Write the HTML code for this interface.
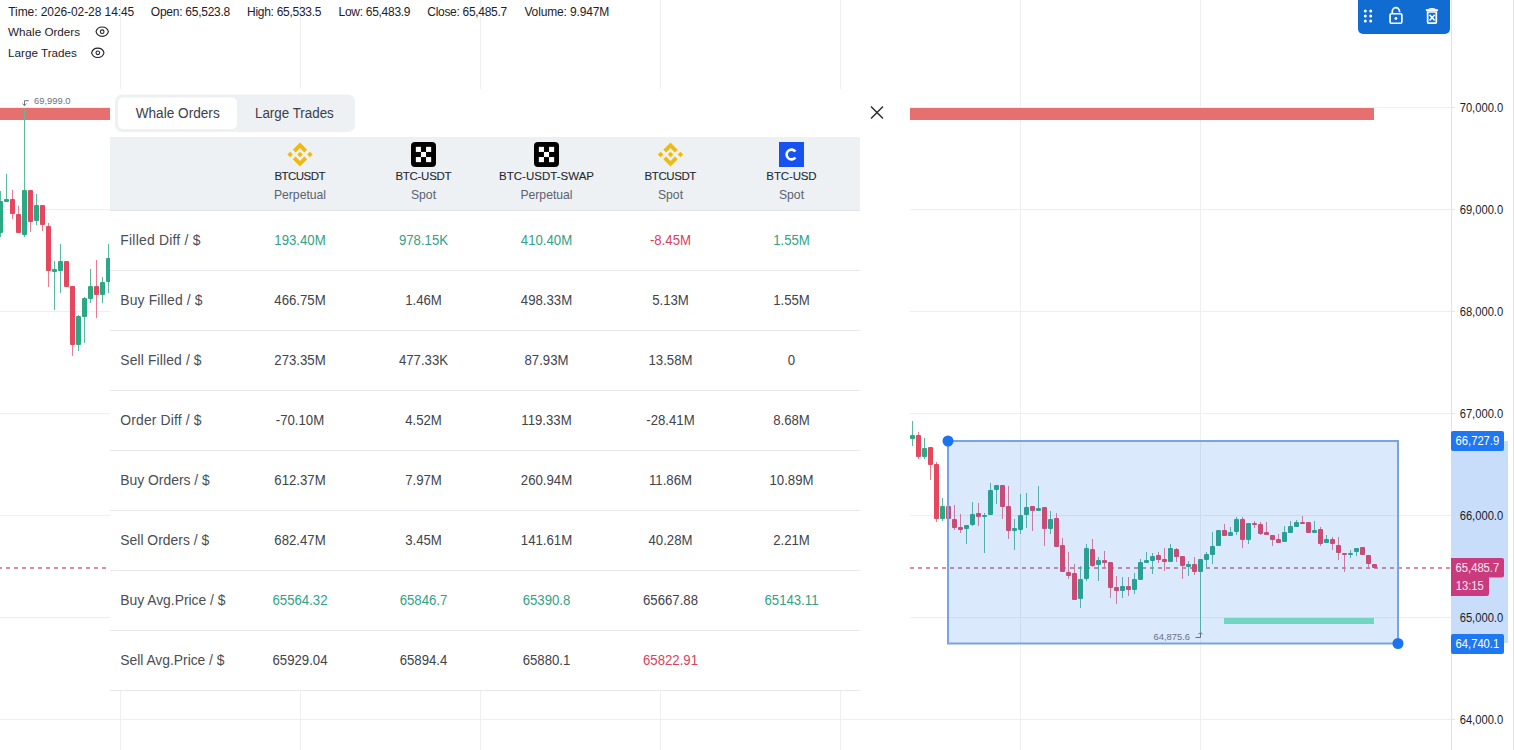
<!DOCTYPE html>
<html><head><meta charset="utf-8">
<style>
html,body{margin:0;padding:0;background:#fff;}
body{width:1514px;height:750px;overflow:hidden;position:relative;}
svg{position:absolute;left:0;top:0;display:block;font-family:"Liberation Sans", sans-serif;}
</style></head>
<body>
<svg width="1514" height="750" viewBox="0 0 1514 750">
<rect x="120" y="0" width="1" height="750" fill="#efefef"/>
<rect x="300" y="0" width="1" height="750" fill="#efefef"/>
<rect x="480" y="0" width="1" height="750" fill="#efefef"/>
<rect x="660" y="0" width="1" height="750" fill="#efefef"/>
<rect x="840" y="0" width="1" height="750" fill="#efefef"/>
<rect x="1020" y="0" width="1" height="750" fill="#efefef"/>
<rect x="1200" y="0" width="1" height="750" fill="#efefef"/>
<rect x="0" y="107" width="1451" height="1" fill="#efefef"/>
<rect x="1451" y="107" width="4" height="1" fill="#e6e6e6"/>
<rect x="0" y="209" width="1451" height="1" fill="#efefef"/>
<rect x="1451" y="209" width="4" height="1" fill="#e6e6e6"/>
<rect x="0" y="311" width="1451" height="1" fill="#efefef"/>
<rect x="1451" y="311" width="4" height="1" fill="#e6e6e6"/>
<rect x="0" y="413" width="1451" height="1" fill="#efefef"/>
<rect x="1451" y="413" width="4" height="1" fill="#e6e6e6"/>
<rect x="0" y="515" width="1451" height="1" fill="#efefef"/>
<rect x="1451" y="515" width="4" height="1" fill="#e6e6e6"/>
<rect x="0" y="617" width="1451" height="1" fill="#efefef"/>
<rect x="1451" y="617" width="4" height="1" fill="#e6e6e6"/>
<rect x="0" y="719" width="1451" height="1" fill="#efefef"/>
<rect x="1451" y="719" width="4" height="1" fill="#e6e6e6"/>
<rect x="0" y="108" width="1374" height="12" fill="#e6706f"/>
<line x1="0" y1="568" x2="1451" y2="568" stroke="#dc8ea2" stroke-width="2" stroke-dasharray="4 4" stroke-dashoffset="2"/>
<rect x="0" y="191" width="1" height="46" fill="#5cba9c"/>
<rect x="-2" y="201" width="5" height="32" rx="1" fill="#2aa985"/>
<rect x="6" y="174" width="1" height="28" fill="#5cba9c"/>
<rect x="4" y="199" width="5" height="3" rx="1" fill="#2aa985"/>
<rect x="12" y="190" width="1" height="29" fill="#e87c91"/>
<rect x="10" y="199" width="5" height="15" rx="1" fill="#e8455f"/>
<rect x="18" y="206" width="1" height="27" fill="#e87c91"/>
<rect x="16" y="214" width="5" height="19" rx="1" fill="#e8455f"/>
<rect x="24" y="109" width="1" height="128" fill="#5cba9c"/>
<rect x="22" y="190" width="5" height="45" rx="1" fill="#2aa985"/>
<rect x="30" y="190" width="1" height="42" fill="#e87c91"/>
<rect x="28" y="190" width="5" height="32" rx="1" fill="#e8455f"/>
<rect x="36" y="194" width="1" height="31" fill="#5cba9c"/>
<rect x="34" y="205" width="5" height="16" rx="1" fill="#2aa985"/>
<rect x="42" y="205" width="1" height="26" fill="#e87c91"/>
<rect x="40" y="205" width="5" height="20" rx="1" fill="#e8455f"/>
<rect x="48" y="223" width="1" height="64" fill="#e87c91"/>
<rect x="46" y="226" width="5" height="45" rx="1" fill="#e8455f"/>
<rect x="54" y="261" width="1" height="49" fill="#5cba9c"/>
<rect x="52" y="269" width="5" height="3" rx="1" fill="#2aa985"/>
<rect x="60" y="244" width="1" height="49" fill="#5cba9c"/>
<rect x="58" y="261" width="5" height="10" rx="1" fill="#2aa985"/>
<rect x="66" y="261" width="1" height="26" fill="#e87c91"/>
<rect x="64" y="261" width="5" height="26" rx="1" fill="#e8455f"/>
<rect x="72" y="286" width="1" height="70" fill="#e87c91"/>
<rect x="70" y="286" width="5" height="59" rx="1" fill="#e8455f"/>
<rect x="78" y="315" width="1" height="36" fill="#5cba9c"/>
<rect x="76" y="316" width="5" height="29" rx="1" fill="#2aa985"/>
<rect x="84" y="297" width="1" height="46" fill="#5cba9c"/>
<rect x="82" y="298" width="5" height="19" rx="1" fill="#2aa985"/>
<rect x="90" y="269" width="1" height="34" fill="#5cba9c"/>
<rect x="88" y="286" width="5" height="13" rx="1" fill="#2aa985"/>
<rect x="96" y="260" width="1" height="58" fill="#e87c91"/>
<rect x="94" y="286" width="5" height="9" rx="1" fill="#e8455f"/>
<rect x="102" y="277" width="1" height="26" fill="#5cba9c"/>
<rect x="100" y="282" width="5" height="13" rx="1" fill="#2aa985"/>
<rect x="108" y="244" width="1" height="49" fill="#5cba9c"/>
<rect x="106" y="258" width="5" height="24" rx="1" fill="#2aa985"/>
<rect x="912" y="421" width="1" height="25" fill="#5cba9c"/>
<rect x="910" y="435" width="5" height="4" rx="1" fill="#2aa985"/>
<rect x="918" y="432" width="1" height="27" fill="#e87c91"/>
<rect x="916" y="435" width="5" height="22" rx="1" fill="#e8455f"/>
<rect x="924" y="438" width="1" height="21" fill="#5cba9c"/>
<rect x="922" y="448" width="5" height="9" rx="1" fill="#2aa985"/>
<rect x="930" y="447" width="1" height="33" fill="#e87c91"/>
<rect x="928" y="447" width="5" height="18" rx="1" fill="#e8455f"/>
<rect x="936" y="462" width="1" height="60" fill="#e87c91"/>
<rect x="934" y="464" width="5" height="55" rx="1" fill="#e8455f"/>
<rect x="942" y="498" width="1" height="23" fill="#5cba9c"/>
<rect x="940" y="506" width="5" height="13" rx="1" fill="#2aa985"/>
<rect x="948" y="495" width="1" height="35" fill="#e87c91"/>
<rect x="946" y="506" width="5" height="13" rx="1" fill="#e8455f"/>
<rect x="954" y="505" width="1" height="25" fill="#e87c91"/>
<rect x="952" y="519" width="5" height="9" rx="1" fill="#e8455f"/>
<rect x="960" y="514" width="1" height="19" fill="#e87c91"/>
<rect x="958" y="527" width="5" height="3" rx="1" fill="#e8455f"/>
<rect x="966" y="525" width="1" height="19" fill="#5cba9c"/>
<rect x="964" y="525" width="5" height="4" rx="1" fill="#2aa985"/>
<rect x="972" y="502" width="1" height="24" fill="#5cba9c"/>
<rect x="970" y="514" width="5" height="11" rx="1" fill="#2aa985"/>
<rect x="978" y="503" width="1" height="23" fill="#e87c91"/>
<rect x="976" y="513" width="5" height="4" rx="1" fill="#e8455f"/>
<rect x="984" y="513" width="1" height="40" fill="#5cba9c"/>
<rect x="982" y="515" width="5" height="2" rx="1" fill="#2aa985"/>
<rect x="990" y="483" width="1" height="32" fill="#5cba9c"/>
<rect x="988" y="490" width="5" height="25" rx="1" fill="#2aa985"/>
<rect x="996" y="485" width="1" height="19" fill="#5cba9c"/>
<rect x="994" y="485" width="5" height="5" rx="1" fill="#2aa985"/>
<rect x="1002" y="485" width="1" height="34" fill="#e87c91"/>
<rect x="1000" y="485" width="5" height="22" rx="1" fill="#e8455f"/>
<rect x="1008" y="486" width="1" height="53" fill="#e87c91"/>
<rect x="1006" y="506" width="5" height="25" rx="1" fill="#e8455f"/>
<rect x="1014" y="519" width="1" height="31" fill="#5cba9c"/>
<rect x="1012" y="528" width="5" height="3" rx="1" fill="#2aa985"/>
<rect x="1020" y="494" width="1" height="40" fill="#5cba9c"/>
<rect x="1018" y="515" width="5" height="15" rx="1" fill="#2aa985"/>
<rect x="1026" y="493" width="1" height="35" fill="#5cba9c"/>
<rect x="1024" y="507" width="5" height="8" rx="1" fill="#2aa985"/>
<rect x="1032" y="506" width="1" height="25" fill="#e87c91"/>
<rect x="1030" y="506" width="5" height="5" rx="1" fill="#e8455f"/>
<rect x="1038" y="486" width="1" height="25" fill="#5cba9c"/>
<rect x="1036" y="508" width="5" height="3" rx="1" fill="#2aa985"/>
<rect x="1044" y="507" width="1" height="39" fill="#e87c91"/>
<rect x="1042" y="507" width="5" height="22" rx="1" fill="#e8455f"/>
<rect x="1050" y="511" width="1" height="23" fill="#5cba9c"/>
<rect x="1048" y="519" width="5" height="10" rx="1" fill="#2aa985"/>
<rect x="1056" y="513" width="1" height="34" fill="#e87c91"/>
<rect x="1054" y="518" width="5" height="29" rx="1" fill="#e8455f"/>
<rect x="1062" y="538" width="1" height="34" fill="#e87c91"/>
<rect x="1060" y="545" width="5" height="27" rx="1" fill="#e8455f"/>
<rect x="1068" y="552" width="1" height="27" fill="#e87c91"/>
<rect x="1066" y="572" width="5" height="4" rx="1" fill="#e8455f"/>
<rect x="1074" y="564" width="1" height="36" fill="#e87c91"/>
<rect x="1072" y="573" width="5" height="27" rx="1" fill="#e8455f"/>
<rect x="1080" y="566" width="1" height="42" fill="#5cba9c"/>
<rect x="1078" y="579" width="5" height="20" rx="1" fill="#2aa985"/>
<rect x="1086" y="544" width="1" height="37" fill="#5cba9c"/>
<rect x="1084" y="548" width="5" height="31" rx="1" fill="#2aa985"/>
<rect x="1092" y="539" width="1" height="28" fill="#e87c91"/>
<rect x="1090" y="549" width="5" height="17" rx="1" fill="#e8455f"/>
<rect x="1098" y="557" width="1" height="24" fill="#5cba9c"/>
<rect x="1096" y="560" width="5" height="5" rx="1" fill="#2aa985"/>
<rect x="1104" y="551" width="1" height="17" fill="#e87c91"/>
<rect x="1102" y="560" width="5" height="3" rx="1" fill="#e8455f"/>
<rect x="1110" y="562" width="1" height="36" fill="#e87c91"/>
<rect x="1108" y="562" width="5" height="26" rx="1" fill="#e8455f"/>
<rect x="1116" y="576" width="1" height="28" fill="#e87c91"/>
<rect x="1114" y="587" width="5" height="4" rx="1" fill="#e8455f"/>
<rect x="1122" y="577" width="1" height="21" fill="#5cba9c"/>
<rect x="1120" y="586" width="5" height="5" rx="1" fill="#2aa985"/>
<rect x="1128" y="577" width="1" height="19" fill="#e87c91"/>
<rect x="1126" y="586" width="5" height="4" rx="1" fill="#e8455f"/>
<rect x="1134" y="573" width="1" height="21" fill="#5cba9c"/>
<rect x="1132" y="579" width="5" height="11" rx="1" fill="#2aa985"/>
<rect x="1140" y="559" width="1" height="21" fill="#5cba9c"/>
<rect x="1138" y="562" width="5" height="18" rx="1" fill="#2aa985"/>
<rect x="1146" y="552" width="1" height="11" fill="#5cba9c"/>
<rect x="1144" y="560" width="5" height="3" rx="1" fill="#2aa985"/>
<rect x="1152" y="553" width="1" height="21" fill="#5cba9c"/>
<rect x="1150" y="556" width="5" height="5" rx="1" fill="#2aa985"/>
<rect x="1158" y="552" width="1" height="11" fill="#e87c91"/>
<rect x="1156" y="555" width="5" height="5" rx="1" fill="#e8455f"/>
<rect x="1164" y="548" width="1" height="23" fill="#e87c91"/>
<rect x="1162" y="559" width="5" height="3" rx="1" fill="#e8455f"/>
<rect x="1170" y="544" width="1" height="18" fill="#5cba9c"/>
<rect x="1168" y="548" width="5" height="14" rx="1" fill="#2aa985"/>
<rect x="1176" y="548" width="1" height="14" fill="#e87c91"/>
<rect x="1174" y="549" width="5" height="8" rx="1" fill="#e8455f"/>
<rect x="1182" y="556" width="1" height="23" fill="#e87c91"/>
<rect x="1180" y="556" width="5" height="10" rx="1" fill="#e8455f"/>
<rect x="1188" y="561" width="1" height="15" fill="#5cba9c"/>
<rect x="1186" y="564" width="5" height="3" rx="1" fill="#2aa985"/>
<rect x="1194" y="557" width="1" height="18" fill="#e87c91"/>
<rect x="1192" y="564" width="5" height="8" rx="1" fill="#e8455f"/>
<rect x="1200" y="559" width="1" height="73" fill="#5cba9c"/>
<rect x="1198" y="559" width="5" height="13" rx="1" fill="#2aa985"/>
<rect x="1206" y="552" width="1" height="16" fill="#5cba9c"/>
<rect x="1204" y="554" width="5" height="6" rx="1" fill="#2aa985"/>
<rect x="1212" y="532" width="1" height="32" fill="#5cba9c"/>
<rect x="1210" y="546" width="5" height="9" rx="1" fill="#2aa985"/>
<rect x="1218" y="530" width="1" height="16" fill="#5cba9c"/>
<rect x="1216" y="530" width="5" height="16" rx="1" fill="#2aa985"/>
<rect x="1224" y="524" width="1" height="12" fill="#e87c91"/>
<rect x="1222" y="530" width="5" height="6" rx="1" fill="#e8455f"/>
<rect x="1230" y="527" width="1" height="9" fill="#5cba9c"/>
<rect x="1228" y="532" width="5" height="4" rx="1" fill="#2aa985"/>
<rect x="1236" y="517" width="1" height="18" fill="#5cba9c"/>
<rect x="1234" y="519" width="5" height="13" rx="1" fill="#2aa985"/>
<rect x="1242" y="517" width="1" height="31" fill="#e87c91"/>
<rect x="1240" y="519" width="5" height="21" rx="1" fill="#e8455f"/>
<rect x="1248" y="523" width="1" height="21" fill="#5cba9c"/>
<rect x="1246" y="523" width="5" height="17" rx="1" fill="#2aa985"/>
<rect x="1254" y="521" width="1" height="7" fill="#e87c91"/>
<rect x="1252" y="523" width="5" height="2" rx="1" fill="#e8455f"/>
<rect x="1260" y="522" width="1" height="13" fill="#e87c91"/>
<rect x="1258" y="524" width="5" height="10" rx="1" fill="#e8455f"/>
<rect x="1266" y="522" width="1" height="13" fill="#e87c91"/>
<rect x="1264" y="532" width="5" height="3" rx="1" fill="#e8455f"/>
<rect x="1272" y="535" width="1" height="11" fill="#e87c91"/>
<rect x="1270" y="535" width="5" height="5" rx="1" fill="#e8455f"/>
<rect x="1278" y="534" width="1" height="9" fill="#e87c91"/>
<rect x="1276" y="539" width="5" height="4" rx="1" fill="#e8455f"/>
<rect x="1284" y="526" width="1" height="16" fill="#5cba9c"/>
<rect x="1282" y="532" width="5" height="10" rx="1" fill="#2aa985"/>
<rect x="1290" y="521" width="1" height="12" fill="#5cba9c"/>
<rect x="1288" y="526" width="5" height="7" rx="1" fill="#2aa985"/>
<rect x="1296" y="520" width="1" height="7" fill="#5cba9c"/>
<rect x="1294" y="522" width="5" height="5" rx="1" fill="#2aa985"/>
<rect x="1302" y="516" width="1" height="8" fill="#e87c91"/>
<rect x="1300" y="522" width="5" height="2" rx="1" fill="#e8455f"/>
<rect x="1308" y="522" width="1" height="11" fill="#e87c91"/>
<rect x="1306" y="522" width="5" height="11" rx="1" fill="#e8455f"/>
<rect x="1314" y="521" width="1" height="12" fill="#5cba9c"/>
<rect x="1312" y="530" width="5" height="3" rx="1" fill="#2aa985"/>
<rect x="1320" y="527" width="1" height="19" fill="#e87c91"/>
<rect x="1318" y="529" width="5" height="15" rx="1" fill="#e8455f"/>
<rect x="1326" y="535" width="1" height="8" fill="#5cba9c"/>
<rect x="1324" y="539" width="5" height="4" rx="1" fill="#2aa985"/>
<rect x="1332" y="537" width="1" height="13" fill="#e87c91"/>
<rect x="1330" y="539" width="5" height="5" rx="1" fill="#e8455f"/>
<rect x="1338" y="537" width="1" height="23" fill="#e87c91"/>
<rect x="1336" y="545" width="5" height="8" rx="1" fill="#e8455f"/>
<rect x="1344" y="553" width="1" height="19" fill="#e87c91"/>
<rect x="1342" y="553" width="5" height="2" rx="1" fill="#e8455f"/>
<rect x="1350" y="550" width="1" height="8" fill="#5cba9c"/>
<rect x="1348" y="553" width="5" height="2" rx="1" fill="#2aa985"/>
<rect x="1356" y="548" width="1" height="8" fill="#5cba9c"/>
<rect x="1354" y="548" width="5" height="4" rx="1" fill="#2aa985"/>
<rect x="1362" y="547" width="1" height="8" fill="#e87c91"/>
<rect x="1360" y="547" width="5" height="8" rx="1" fill="#e8455f"/>
<rect x="1368" y="555" width="1" height="14" fill="#e87c91"/>
<rect x="1366" y="555" width="5" height="9" rx="1" fill="#e8455f"/>
<rect x="1374" y="564" width="1" height="4" fill="#e87c91"/>
<rect x="1372" y="564" width="5" height="4" rx="1" fill="#e8455f"/>
<text x="34" y="104" font-size="9.4" fill="#6b6f7a" text-anchor="start" font-weight="normal">69,999.0</text>
<path d="M28.8 100.7 H24.5 V105.5" stroke="#70757e" stroke-width="1" fill="none"/>
<path d="M22.5 103.5 L24.5 105.8 L26.5 103.5" stroke="#5f8f84" stroke-width="1" fill="none"/>
<rect x="948" y="441" width="450" height="202.5" fill="rgba(33,118,240,0.16)" stroke="#78a3e4" stroke-width="2"/>
<rect x="1224" y="618" width="150" height="6" fill="#70d6c0"/>
<circle cx="948" cy="441" r="5.5" fill="#1a74f2"/>
<circle cx="1398" cy="643.5" r="5.5" fill="#1a74f2"/>
<text x="1153.5" y="640" font-size="9.4" fill="#6b7280" text-anchor="start" font-weight="normal">64,875.6</text>
<path d="M1195.5 637.5 H1200.5 V633" stroke="#667080" stroke-width="1" fill="none"/>
<path d="M1198.5 634.3 L1200.5 632.3 L1202.5 634.3" stroke="#667080" stroke-width="1" fill="none"/>
<rect x="1451" y="0" width="1" height="750" fill="#e3e3e3"/>
<rect x="1513" y="0" width="1" height="750" fill="#e3e3e3"/>
<rect x="1451" y="441" width="57" height="202" fill="#c7ddfa"/>
<text x="1503.2" y="111.6" font-size="12" fill="#161c28" text-anchor="end" font-weight="normal" textLength="43.5" lengthAdjust="spacingAndGlyphs">70,000.0</text>
<text x="1503.2" y="213.6" font-size="12" fill="#161c28" text-anchor="end" font-weight="normal" textLength="43.5" lengthAdjust="spacingAndGlyphs">69,000.0</text>
<text x="1503.2" y="315.6" font-size="12" fill="#161c28" text-anchor="end" font-weight="normal" textLength="43.5" lengthAdjust="spacingAndGlyphs">68,000.0</text>
<text x="1503.2" y="417.6" font-size="12" fill="#161c28" text-anchor="end" font-weight="normal" textLength="43.5" lengthAdjust="spacingAndGlyphs">67,000.0</text>
<text x="1503.2" y="519.6" font-size="12" fill="#161c28" text-anchor="end" font-weight="normal" textLength="43.5" lengthAdjust="spacingAndGlyphs">66,000.0</text>
<text x="1503.2" y="621.6" font-size="12" fill="#161c28" text-anchor="end" font-weight="normal" textLength="43.5" lengthAdjust="spacingAndGlyphs">65,000.0</text>
<text x="1503.2" y="723.6" font-size="12" fill="#161c28" text-anchor="end" font-weight="normal" textLength="43.5" lengthAdjust="spacingAndGlyphs">64,000.0</text>
<rect x="1451" y="431" width="53" height="20" rx="2" fill="#1f78f1"/>
<text x="1477.4" y="445" font-size="12" fill="#ffffff" text-anchor="middle" font-weight="normal" textLength="43.6" lengthAdjust="spacingAndGlyphs">66,727.9</text>
<rect x="1451" y="634" width="53" height="20" rx="2" fill="#1f78f1"/>
<text x="1477.4" y="648" font-size="12" fill="#ffffff" text-anchor="middle" font-weight="normal" textLength="43.6" lengthAdjust="spacingAndGlyphs">64,740.1</text>
<path d="M1451 558 H1502 a2 2 0 0 1 2 2 V575.5 a2 2 0 0 1 -2 2 H1489 V594 a2 2 0 0 1 -2 2 H1451 Z" fill="#c93b7d"/>
<text x="1477.4" y="571.5" font-size="12" fill="#fbe9f2" text-anchor="middle" font-weight="normal" textLength="43.6" lengthAdjust="spacingAndGlyphs">65,485.7</text>
<text x="1455.8" y="590" font-size="12" fill="#fbe9f2" text-anchor="start" font-weight="normal" textLength="28" lengthAdjust="spacingAndGlyphs">13:15</text>
<path d="M1358 0 H1450 V29 a5 5 0 0 1 -5 5 H1363 a5 5 0 0 1 -5 -5 Z" fill="#116cd2"/>
<circle cx="1365.3" cy="10.9" r="1.5" fill="#fff"/>
<circle cx="1365.3" cy="16.1" r="1.5" fill="#fff"/>
<circle cx="1365.3" cy="21.1" r="1.5" fill="#fff"/>
<circle cx="1370.7" cy="10.9" r="1.5" fill="#fff"/>
<circle cx="1370.7" cy="16.1" r="1.5" fill="#fff"/>
<circle cx="1370.7" cy="21.1" r="1.5" fill="#fff"/>
<rect x="1390.05" y="13.75" width="11.8" height="9.5" rx="1.3" fill="none" stroke="#fff" stroke-width="1.7"/>
<path d="M1392.3 13.5 V11.3 a3.6 3.6 0 0 1 7.2 0 V12.3" fill="none" stroke="#fff" stroke-width="1.7"/>
<circle cx="1395.9" cy="18.5" r="1.4" fill="#fff"/>
<path d="M1425.9 10.1 H1437.9" stroke="#fff" stroke-width="1.9"/>
<path d="M1428.8 9 Q1432 7.9 1435.2 9" stroke="#fff" stroke-width="1" fill="none"/>
<path d="M1427.65 12 V22.2 a1 1 0 0 0 1 1 H1435.3 a1 1 0 0 0 1 -1 V12 Z" fill="none" stroke="#fff" stroke-width="1.7"/>
<path d="M1429.6 14.8 L1434.7 20.5 M1434.7 14.8 L1429.6 20.5" stroke="#fff" stroke-width="1.6"/>
<text x="8.3" y="15.7" font-size="12" fill="#1e2128" text-anchor="start" font-weight="normal" textLength="126">Time: 2026-02-28 14:45</text>
<text x="150.8" y="15.7" font-size="12" fill="#1e2128" text-anchor="start" font-weight="normal" textLength="79.5">Open: 65,523.8</text>
<text x="247" y="15.7" font-size="12" fill="#1e2128" text-anchor="start" font-weight="normal" textLength="74.5">High: 65,533.5</text>
<text x="338.6" y="15.7" font-size="12" fill="#1e2128" text-anchor="start" font-weight="normal" textLength="71.9">Low: 65,483.9</text>
<text x="427.3" y="15.7" font-size="12" fill="#1e2128" text-anchor="start" font-weight="normal" textLength="79.9">Close: 65,485.7</text>
<text x="524.4" y="15.7" font-size="12" fill="#1e2128" text-anchor="start" font-weight="normal" textLength="84.9">Volume: 9.947M</text>
<text x="8" y="35.5" font-size="11.7" fill="#1e2128" text-anchor="start" font-weight="normal">Whale Orders</text>
<text x="8" y="56.5" font-size="11.7" fill="#1e2128" text-anchor="start" font-weight="normal">Large Trades</text>
<path d="M96.0 31.7 C97.7 25.5 106.7 25.5 108.4 31.7 C106.7 37.9 97.7 37.9 96.0 31.7 Z" fill="none" stroke="#1f2228" stroke-width="1.1"/><circle cx="102.2" cy="31.7" r="1.8" fill="none" stroke="#1f2228" stroke-width="1.1"/>
<path d="M91.6 52.8 C93.3 46.599999999999994 102.3 46.599999999999994 104.0 52.8 C102.3 59.0 93.3 59.0 91.6 52.8 Z" fill="none" stroke="#1f2228" stroke-width="1.1"/><circle cx="97.8" cy="52.8" r="1.8" fill="none" stroke="#1f2228" stroke-width="1.1"/>
<rect x="110" y="89" width="800" height="601" fill="#ffffff"/>
<rect x="115" y="94.5" width="240" height="37.5" rx="7" fill="#edf1f4"/>
<rect x="118" y="97.5" width="119" height="31.5" rx="5" fill="#ffffff"/>
<text x="177.7" y="118.4" font-size="14" fill="#3b4049" text-anchor="middle" font-weight="normal" textLength="84" lengthAdjust="spacingAndGlyphs">Whale Orders</text>
<text x="294.4" y="118.4" font-size="14" fill="#3b4049" text-anchor="middle" font-weight="normal" textLength="78.8" lengthAdjust="spacingAndGlyphs">Large Trades</text>
<path d="M871 106.5 L883 118.5 M883 106.5 L871 118.5" stroke="#2b2f36" stroke-width="1.5"/>
<rect x="110" y="137" width="750" height="73" fill="#edf1f4"/>
<rect x="110" y="210" width="750" height="1" fill="#e2e4e8"/>
<rect x="110" y="270" width="750" height="1" fill="#e8e9ec"/>
<rect x="110" y="330" width="750" height="1" fill="#e8e9ec"/>
<rect x="110" y="390" width="750" height="1" fill="#e8e9ec"/>
<rect x="110" y="450" width="750" height="1" fill="#e8e9ec"/>
<rect x="110" y="510" width="750" height="1" fill="#e8e9ec"/>
<rect x="110" y="570" width="750" height="1" fill="#e8e9ec"/>
<rect x="110" y="630" width="750" height="1" fill="#e8e9ec"/>
<rect x="110" y="690" width="750" height="1" fill="#e8e9ec"/>
<path d="M300 151.8 L302.7 154.5 L300 157.2 L297.3 154.5 Z" fill="#f0b90b"/><path d="M290.1 151.8 L292.8 154.5 L290.1 157.2 L287.40000000000003 154.5 Z" fill="#f0b90b"/><path d="M309.9 151.8 L312.59999999999997 154.5 L309.9 157.2 L307.2 154.5 Z" fill="#f0b90b"/><path d="M300 142.5 L307.2 149.7 L304.4 152.5 L300 148.1 L295.6 152.5 L292.8 149.7 Z" fill="#f0b90b"/><path d="M300 166.5 L307.2 159.3 L304.4 156.5 L300 160.9 L295.6 156.5 L292.8 159.3 Z" fill="#f0b90b"/>
<rect x="411.0" y="142.0" width="25" height="25" rx="4" fill="#000"/><rect x="415.84999999999997" y="146.85" width="5.1" height="5.1" fill="#fff"/><rect x="426.05" y="146.85" width="5.1" height="5.1" fill="#fff"/><rect x="420.95" y="151.95" width="5.1" height="5.1" fill="#fff"/><rect x="415.84999999999997" y="157.04999999999998" width="5.1" height="5.1" fill="#fff"/><rect x="426.05" y="157.04999999999998" width="5.1" height="5.1" fill="#fff"/>
<rect x="534.0" y="142.0" width="25" height="25" rx="4" fill="#000"/><rect x="538.85" y="146.85" width="5.1" height="5.1" fill="#fff"/><rect x="549.0500000000001" y="146.85" width="5.1" height="5.1" fill="#fff"/><rect x="543.95" y="151.95" width="5.1" height="5.1" fill="#fff"/><rect x="538.85" y="157.04999999999998" width="5.1" height="5.1" fill="#fff"/><rect x="549.0500000000001" y="157.04999999999998" width="5.1" height="5.1" fill="#fff"/>
<path d="M670.5 151.8 L673.2 154.5 L670.5 157.2 L667.8 154.5 Z" fill="#f0b90b"/><path d="M660.6 151.8 L663.3000000000001 154.5 L660.6 157.2 L657.9 154.5 Z" fill="#f0b90b"/><path d="M680.4 151.8 L683.1 154.5 L680.4 157.2 L677.6999999999999 154.5 Z" fill="#f0b90b"/><path d="M670.5 142.5 L677.7 149.7 L674.9 152.5 L670.5 148.1 L666.1 152.5 L663.3 149.7 Z" fill="#f0b90b"/><path d="M670.5 166.5 L677.7 159.3 L674.9 156.5 L670.5 160.9 L666.1 156.5 L663.3 159.3 Z" fill="#f0b90b"/>
<rect x="779.0" y="142.0" width="25" height="25" fill="#1652f0"/><path d="M795.4 151.5 A4.9 4.9 0 1 0 795.4 157.5" fill="none" stroke="#fff" stroke-width="2.6"/>
<text x="300" y="180" font-size="11.5" fill="#1f2630" text-anchor="middle" font-weight="normal" textLength="51" lengthAdjust="spacing" stroke="#1f2630" stroke-width="0.08">BTCUSDT</text>
<text x="300" y="199" font-size="12.2" fill="#5b6270" text-anchor="middle" font-weight="normal">Perpetual</text>
<text x="423.5" y="180" font-size="11.5" fill="#1f2630" text-anchor="middle" font-weight="normal" textLength="56.1" lengthAdjust="spacing" stroke="#1f2630" stroke-width="0.08">BTC-USDT</text>
<text x="423.5" y="199" font-size="12.2" fill="#5b6270" text-anchor="middle" font-weight="normal">Spot</text>
<text x="546.5" y="180" font-size="11.5" fill="#1f2630" text-anchor="middle" font-weight="normal" textLength="95" lengthAdjust="spacing" stroke="#1f2630" stroke-width="0.08">BTC-USDT-SWAP</text>
<text x="546.5" y="199" font-size="12.2" fill="#5b6270" text-anchor="middle" font-weight="normal">Perpetual</text>
<text x="670.5" y="180" font-size="11.5" fill="#1f2630" text-anchor="middle" font-weight="normal" textLength="51.8" lengthAdjust="spacing" stroke="#1f2630" stroke-width="0.08">BTCUSDT</text>
<text x="670.5" y="199" font-size="12.2" fill="#5b6270" text-anchor="middle" font-weight="normal">Spot</text>
<text x="791.5" y="180" font-size="11.5" fill="#1f2630" text-anchor="middle" font-weight="normal" textLength="50.3" lengthAdjust="spacing" stroke="#1f2630" stroke-width="0.08">BTC-USD</text>
<text x="791.5" y="199" font-size="12.2" fill="#5b6270" text-anchor="middle" font-weight="normal">Spot</text>
<text x="120.3" y="245" font-size="13.9" fill="#4a4e55" text-anchor="start" font-weight="normal" textLength="80.1" lengthAdjust="spacing">Filled Diff / $</text>
<text x="300" y="245" font-size="14" fill="#31a287" text-anchor="middle" font-weight="normal" textLength="51.37" lengthAdjust="spacingAndGlyphs">193.40M</text>
<text x="423.5" y="245" font-size="14" fill="#31a287" text-anchor="middle" font-weight="normal" textLength="49.17" lengthAdjust="spacingAndGlyphs">978.15K</text>
<text x="546.5" y="245" font-size="14" fill="#31a287" text-anchor="middle" font-weight="normal" textLength="51.37" lengthAdjust="spacingAndGlyphs">410.40M</text>
<text x="670.5" y="245" font-size="14" fill="#d9425d" text-anchor="middle" font-weight="normal" textLength="41.08" lengthAdjust="spacingAndGlyphs">-8.45M</text>
<text x="791.5" y="245" font-size="14" fill="#31a287" text-anchor="middle" font-weight="normal" textLength="36.68" lengthAdjust="spacingAndGlyphs">1.55M</text>
<text x="120.3" y="305" font-size="13.9" fill="#4a4e55" text-anchor="start" font-weight="normal" textLength="82.2" lengthAdjust="spacing">Buy Filled / $</text>
<text x="300" y="305" font-size="14" fill="#40444b" text-anchor="middle" font-weight="normal" textLength="51.37" lengthAdjust="spacingAndGlyphs">466.75M</text>
<text x="423.5" y="305" font-size="14" fill="#40444b" text-anchor="middle" font-weight="normal" textLength="36.68" lengthAdjust="spacingAndGlyphs">1.46M</text>
<text x="546.5" y="305" font-size="14" fill="#40444b" text-anchor="middle" font-weight="normal" textLength="51.37" lengthAdjust="spacingAndGlyphs">498.33M</text>
<text x="670.5" y="305" font-size="14" fill="#40444b" text-anchor="middle" font-weight="normal" textLength="36.68" lengthAdjust="spacingAndGlyphs">5.13M</text>
<text x="791.5" y="305" font-size="14" fill="#40444b" text-anchor="middle" font-weight="normal" textLength="36.68" lengthAdjust="spacingAndGlyphs">1.55M</text>
<text x="120.3" y="365" font-size="13.9" fill="#4a4e55" text-anchor="start" font-weight="normal" textLength="81.3" lengthAdjust="spacing">Sell Filled / $</text>
<text x="300" y="365" font-size="14" fill="#40444b" text-anchor="middle" font-weight="normal" textLength="51.37" lengthAdjust="spacingAndGlyphs">273.35M</text>
<text x="423.5" y="365" font-size="14" fill="#40444b" text-anchor="middle" font-weight="normal" textLength="49.17" lengthAdjust="spacingAndGlyphs">477.33K</text>
<text x="546.5" y="365" font-size="14" fill="#40444b" text-anchor="middle" font-weight="normal" textLength="44.02" lengthAdjust="spacingAndGlyphs">87.93M</text>
<text x="670.5" y="365" font-size="14" fill="#40444b" text-anchor="middle" font-weight="normal" textLength="44.02" lengthAdjust="spacingAndGlyphs">13.58M</text>
<text x="791.5" y="365" font-size="14" fill="#40444b" text-anchor="middle" font-weight="normal" textLength="7.34" lengthAdjust="spacingAndGlyphs">0</text>
<text x="120.3" y="425" font-size="13.9" fill="#4a4e55" text-anchor="start" font-weight="normal" textLength="81.3" lengthAdjust="spacing">Order Diff / $</text>
<text x="300" y="425" font-size="14" fill="#40444b" text-anchor="middle" font-weight="normal" textLength="48.42" lengthAdjust="spacingAndGlyphs">-70.10M</text>
<text x="423.5" y="425" font-size="14" fill="#40444b" text-anchor="middle" font-weight="normal" textLength="36.68" lengthAdjust="spacingAndGlyphs">4.52M</text>
<text x="546.5" y="425" font-size="14" fill="#40444b" text-anchor="middle" font-weight="normal" textLength="50.39" lengthAdjust="spacingAndGlyphs">119.33M</text>
<text x="670.5" y="425" font-size="14" fill="#40444b" text-anchor="middle" font-weight="normal" textLength="48.42" lengthAdjust="spacingAndGlyphs">-28.41M</text>
<text x="791.5" y="425" font-size="14" fill="#40444b" text-anchor="middle" font-weight="normal" textLength="36.68" lengthAdjust="spacingAndGlyphs">8.68M</text>
<text x="120.3" y="485" font-size="13.9" fill="#4a4e55" text-anchor="start" font-weight="normal" textLength="89.5" lengthAdjust="spacing">Buy Orders / $</text>
<text x="300" y="485" font-size="14" fill="#40444b" text-anchor="middle" font-weight="normal" textLength="51.37" lengthAdjust="spacingAndGlyphs">612.37M</text>
<text x="423.5" y="485" font-size="14" fill="#40444b" text-anchor="middle" font-weight="normal" textLength="36.68" lengthAdjust="spacingAndGlyphs">7.97M</text>
<text x="546.5" y="485" font-size="14" fill="#40444b" text-anchor="middle" font-weight="normal" textLength="51.37" lengthAdjust="spacingAndGlyphs">260.94M</text>
<text x="670.5" y="485" font-size="14" fill="#40444b" text-anchor="middle" font-weight="normal" textLength="43.05" lengthAdjust="spacingAndGlyphs">11.86M</text>
<text x="791.5" y="485" font-size="14" fill="#40444b" text-anchor="middle" font-weight="normal" textLength="44.02" lengthAdjust="spacingAndGlyphs">10.89M</text>
<text x="120.3" y="545" font-size="13.9" fill="#4a4e55" text-anchor="start" font-weight="normal" textLength="88.9" lengthAdjust="spacing">Sell Orders / $</text>
<text x="300" y="545" font-size="14" fill="#40444b" text-anchor="middle" font-weight="normal" textLength="51.37" lengthAdjust="spacingAndGlyphs">682.47M</text>
<text x="423.5" y="545" font-size="14" fill="#40444b" text-anchor="middle" font-weight="normal" textLength="36.68" lengthAdjust="spacingAndGlyphs">3.45M</text>
<text x="546.5" y="545" font-size="14" fill="#40444b" text-anchor="middle" font-weight="normal" textLength="51.37" lengthAdjust="spacingAndGlyphs">141.61M</text>
<text x="670.5" y="545" font-size="14" fill="#40444b" text-anchor="middle" font-weight="normal" textLength="44.02" lengthAdjust="spacingAndGlyphs">40.28M</text>
<text x="791.5" y="545" font-size="14" fill="#40444b" text-anchor="middle" font-weight="normal" textLength="36.68" lengthAdjust="spacingAndGlyphs">2.21M</text>
<text x="120.3" y="605" font-size="13.9" fill="#4a4e55" text-anchor="start" font-weight="normal" textLength="105.1" lengthAdjust="spacing">Buy Avg.Price / $</text>
<text x="300" y="605" font-size="14" fill="#31a287" text-anchor="middle" font-weight="normal" textLength="55.05" lengthAdjust="spacingAndGlyphs">65564.32</text>
<text x="423.5" y="605" font-size="14" fill="#31a287" text-anchor="middle" font-weight="normal" textLength="47.71" lengthAdjust="spacingAndGlyphs">65846.7</text>
<text x="546.5" y="605" font-size="14" fill="#31a287" text-anchor="middle" font-weight="normal" textLength="47.71" lengthAdjust="spacingAndGlyphs">65390.8</text>
<text x="670.5" y="605" font-size="14" fill="#40444b" text-anchor="middle" font-weight="normal" textLength="55.05" lengthAdjust="spacingAndGlyphs">65667.88</text>
<text x="791.5" y="605" font-size="14" fill="#31a287" text-anchor="middle" font-weight="normal" textLength="54.07" lengthAdjust="spacingAndGlyphs">65143.11</text>
<text x="120.3" y="665" font-size="13.9" fill="#4a4e55" text-anchor="start" font-weight="normal" textLength="104.2" lengthAdjust="spacing">Sell Avg.Price / $</text>
<text x="300" y="665" font-size="14" fill="#40444b" text-anchor="middle" font-weight="normal" textLength="55.05" lengthAdjust="spacingAndGlyphs">65929.04</text>
<text x="423.5" y="665" font-size="14" fill="#40444b" text-anchor="middle" font-weight="normal" textLength="47.71" lengthAdjust="spacingAndGlyphs">65894.4</text>
<text x="546.5" y="665" font-size="14" fill="#40444b" text-anchor="middle" font-weight="normal" textLength="47.71" lengthAdjust="spacingAndGlyphs">65880.1</text>
<text x="670.5" y="665" font-size="14" fill="#d9425d" text-anchor="middle" font-weight="normal" textLength="55.05" lengthAdjust="spacingAndGlyphs">65822.91</text>
</svg>
</body></html>
